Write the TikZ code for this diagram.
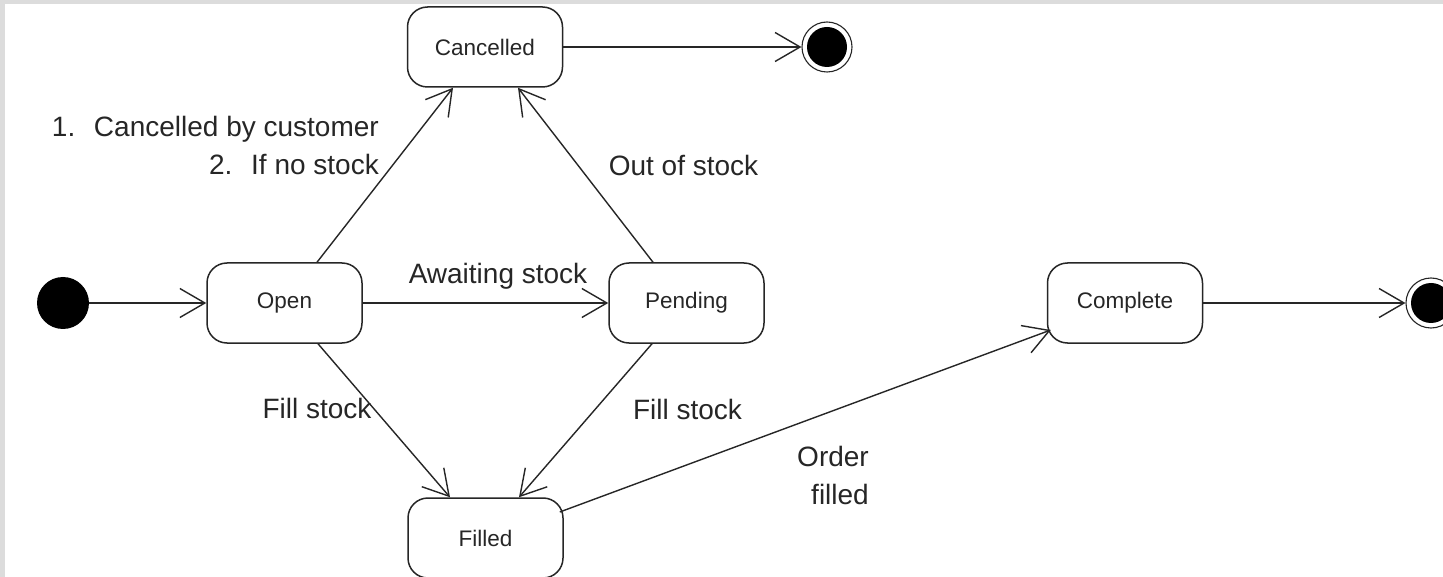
\documentclass[tikz,border=0pt]{standalone}
\usepackage{fontspec}
\setmainfont{Liberation Sans}
\usetikzlibrary{arrows.meta}
\definecolor{ink}{HTML}{262626}
\definecolor{frame}{HTML}{DCDCDC}
\tikzset{
  state/.style={draw=ink, line width=1.5pt, rounded corners=20pt, fill=white,
    minimum width=155pt, minimum height=80pt, inner sep=0pt, text=ink,
    font=\fontsize{22.5}{26}\selectfont},
  trans/.style={draw=ink, line width=1.4pt,
    -{Straight Barb[length=25pt,width=29pt,line width=1.4pt]}},
  lbl/.style={text=ink, inner sep=0pt, font=\fontsize{28}{38}\selectfont},
  startdot/.style={circle, fill=black, minimum size=52pt, inner sep=0pt},
  enddot/.style={circle, draw=ink, line width=1.1pt, fill=white, minimum size=50pt,
    inner sep=0pt, path picture={\fill[black] (path picture bounding box.center) circle (20pt);}}
}
\begin{document}
\begin{tikzpicture}[x=1pt,y=-1pt]
  \clip (0,0) rectangle (1443,577);
  % frame and canvas
  \fill[frame] (0,0) rectangle (1443,577);
  \fill[white] (5,4) rectangle (1443,577);

  % states
  \node[startdot] (init) at (63,303) {};
  \node[state] (open) at (284.5,303) {Open};
  \node[state] (cancelled) at (485,47) {Cancelled};
  \node[state] (pending) at (686.5,303) {Pending};
  \node[state] (filled) at (485.5,538) {Filled};
  \node[state] (complete) at (1125,303) {Complete};
  \node[enddot] (endtop) at (827,47) {};
  \node[enddot] (endright) at (1431,303) {};

  % transitions
  \draw[trans] (init) -- (open);
  \draw[trans] (cancelled) -- (endtop);
  \draw[trans] (complete) -- (endright);
  \draw[trans] (open) -- (pending);
  \draw[trans] ([xshift=32.5pt]open.north) -- ([xshift=-32pt]cancelled.south);
  \draw[trans] ([xshift=-33.5pt]pending.north) -- ([xshift=33pt]cancelled.south);
  \draw[trans] ([xshift=33.5pt]open.south) -- ([xshift=-35.5pt]filled.north);
  \draw[trans] ([xshift=-34.5pt]pending.south) -- ([xshift=33.5pt]filled.north);
  \draw[trans] ([xshift=-4pt,yshift=26pt]filled.east) -- ([xshift=4pt,yshift=-27pt]complete.west);

  % transition labels
  \node[lbl, align=right, anchor=east] (lcancel) at (379,145)
    {1.\enspace\thinspace Cancelled by customer\\2.\enspace\thinspace If no stock};
  \node[lbl] (lout) at (683.5,165) {Out of stock};
  \node[lbl] (lawait) at (498,276) {Awaiting stock};
  \node[lbl] (lfill1) at (317,408) {Fill stock};
  \node[lbl] (lfill2) at (687.5,409) {Fill stock};
  \node[lbl, align=right, anchor=east] (lorder) at (869,475) {Order\\filled};
\end{tikzpicture}
\end{document}
